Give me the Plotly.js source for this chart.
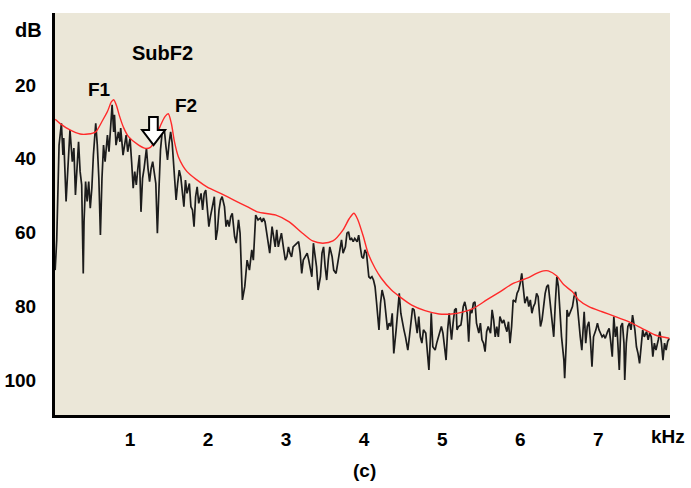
<!DOCTYPE html>
<html>
<head>
<meta charset="utf-8">
<script src="https://cdn.plot.ly/plotly-3.0.1.min.js"></script>
<style>html,body{margin:0;padding:0;background:#fff;}#chart{width:691px;height:488px;}</style>
</head>
<body>
<div id="chart"></div>
<script>
// Spectrum (black, FFT) — frequency in kHz, level in dB
const spectrumKHz = [0.04,0.06,0.09,0.12,0.14,0.15,0.18,0.21,0.23,0.26,0.28,0.30,0.32,0.34,0.36,0.38,0.40,0.41,0.43,0.45,0.47,0.49,0.51,0.53,0.56,0.58,0.60,0.62,0.64,0.66,0.68,0.71,0.73,0.75,0.77,0.79,0.80,0.82,0.85,0.87,0.88,0.91,0.93,0.95,0.97,1.00,1.02,1.04,1.06,1.08,1.10,1.12,1.14,1.16,1.18,1.21,1.23,1.25,1.27,1.29,1.33,1.35,1.37,1.39,1.41,1.44,1.46,1.48,1.50,1.52,1.54,1.56,1.59,1.61,1.63,1.65,1.67,1.69,1.71,1.73,1.76,1.78,1.80,1.82,1.84,1.86,1.88,1.91,1.93,1.95,1.97,1.99,2.01,2.03,2.06,2.08,2.10,2.12,2.14,2.16,2.18,2.21,2.23,2.25,2.27,2.29,2.31,2.34,2.36,2.39,2.41,2.44,2.47,2.50,2.53,2.56,2.58,2.61,2.64,2.67,2.69,2.71,2.73,2.76,2.79,2.82,2.84,2.86,2.88,2.90,2.92,2.94,2.97,2.99,3.01,3.03,3.05,3.07,3.09,3.14,3.16,3.18,3.20,3.22,3.24,3.27,3.29,3.31,3.33,3.35,3.37,3.39,3.41,3.44,3.46,3.48,3.50,3.52,3.54,3.56,3.59,3.61,3.64,3.67,3.69,3.71,3.73,3.76,3.78,3.80,3.82,3.84,3.86,3.88,3.91,3.93,3.95,3.97,3.99,4.01,4.03,4.06,4.08,4.10,4.12,4.14,4.16,4.18,4.19,4.21,4.23,4.26,4.28,4.30,4.32,4.34,4.36,4.38,4.41,4.43,4.45,4.47,4.49,4.51,4.53,4.56,4.58,4.60,4.62,4.64,4.66,4.68,4.70,4.72,4.74,4.76,4.79,4.81,4.83,4.85,4.86,4.88,4.91,4.93,4.95,4.97,4.99,5.01,5.03,5.05,5.07,5.09,5.10,5.12,5.14,5.16,5.18,5.19,5.21,5.24,5.25,5.27,5.29,5.32,5.34,5.36,5.38,5.40,5.42,5.44,5.47,5.49,5.51,5.53,5.55,5.57,5.59,5.62,5.64,5.66,5.68,5.70,5.72,5.74,5.77,5.79,5.81,5.83,5.85,5.87,5.89,5.91,5.94,5.96,5.98,6.00,6.02,6.04,6.06,6.09,6.11,6.13,6.15,6.17,6.19,6.21,6.23,6.26,6.28,6.30,6.32,6.34,6.36,6.38,6.41,6.43,6.45,6.47,6.49,6.51,6.53,6.56,6.57,6.59,6.60,6.62,6.64,6.67,6.69,6.71,6.73,6.75,6.77,6.79,6.82,6.84,6.86,6.88,6.90,6.92,6.94,6.97,6.99,7.01,7.03,7.05,7.07,7.09,7.12,7.14,7.16,7.18,7.20,7.22,7.24,7.27,7.29,7.31,7.33,7.34,7.36,7.38,7.40,7.42,7.44,7.47,7.49,7.51,7.53,7.55,7.57,7.59,7.62,7.64,7.66,7.68,7.70,7.72,7.74,7.77,7.79,7.81,7.83,7.85,7.87,7.89,7.91];
const spectrumDb = [70.2,62.0,36.3,30.4,39.0,34.4,51.6,40.8,32.2,40.8,37.1,49.8,40.8,35.4,43.5,47.1,71.1,57.1,46.2,51.6,46.2,53.4,48.0,39.0,30.4,36.3,45.3,60.7,45.3,36.3,40.8,33.6,38.1,30.0,25.4,32.7,28.1,36.3,32.7,35.4,31.7,39.0,36.3,33.6,38.1,34.5,40.8,48.0,43.5,47.1,42.6,39.0,54.4,45.3,42.6,37.2,42.6,46.2,42.6,40.8,46.7,60.2,48.5,37.6,33.1,32.2,36.7,40.3,35.8,32.7,35.8,42.2,51.2,46.7,43.1,44.9,49.4,53.0,45.8,49.4,46.7,53.0,53.9,58.4,50.3,47.6,52.1,49.4,53.9,49.4,48.5,53.9,58.4,55.7,52.1,50.3,62.0,59.3,53.9,51.2,50.3,53.0,58.4,56.6,58.4,55.7,54.8,61.1,62.9,56.6,60.2,78.3,74.7,67.5,70.2,64.7,67.5,55.3,56.6,56.1,57.1,56.1,57.1,62.0,65.6,58.4,62.0,63.9,59.3,63.9,62.0,60.2,64.7,67.5,66.6,63.9,65.6,66.6,63.9,62.9,62.5,65.6,71.1,67.5,66.6,65.6,67.5,70.2,72.0,62.9,65.6,69.3,75.6,72.0,65.6,63.9,69.3,72.9,67.5,63.9,66.6,70.2,71.1,66.6,63.9,62.0,65.6,63.9,60.2,59.8,62.0,61.6,62.5,61.6,62.5,60.7,63.9,66.6,67.0,64.7,65.6,72.0,72.4,72.0,72.9,74.7,79.2,83.7,86.4,79.2,75.6,78.3,81.9,86.4,84.6,85.5,81.9,92.8,86.4,81.0,76.5,81.9,84.6,86.4,88.3,91.9,88.3,83.7,80.6,81.0,83.7,87.3,82.8,88.3,90.0,86.4,87.3,91.9,97.3,88.3,81.9,91.0,91.9,90.0,88.3,86.4,85.5,87.3,91.9,94.6,86.4,81.9,84.6,89.1,84.6,81.0,80.6,86.4,85.5,85.1,83.7,80.1,78.8,81.9,89.6,81.0,81.9,79.2,78.8,84.6,87.3,84.6,89.1,90.0,92.3,86.9,85.5,87.3,81.0,83.7,88.3,85.5,88.3,82.8,84.6,83.7,85.5,86.9,84.2,90.0,85.5,78.3,78.8,76.5,75.6,73.8,71.1,74.7,79.2,77.4,80.1,78.3,81.9,80.1,79.2,76.5,77.4,85.5,83.7,80.1,76.5,74.7,74.2,78.3,83.7,88.3,79.2,72.0,74.7,81.9,88.3,94.6,99.5,90.0,81.0,82.8,81.9,80.1,77.4,76.1,79.2,84.6,88.3,91.9,81.5,90.0,85.5,84.2,89.1,96.4,88.3,86.4,84.6,86.4,87.3,88.3,87.8,88.7,86.9,86.0,89.6,93.7,82.8,88.3,85.5,97.3,85.5,84.6,90.0,100.0,90.0,85.5,84.6,86.4,82.4,86.4,91.0,92.8,95.5,90.0,86.4,88.3,86.9,89.1,87.3,88.3,93.7,90.0,91.9,89.1,86.9,90.0,94.6,90.0,91.9,89.6,88.7];

// Envelope (red, smooth)
const envelopeKHz = [0.04,0.10,0.23,0.36,0.46,0.56,0.64,0.71,0.76,0.79,0.83,0.86,0.92,0.98,1.11,1.20,1.26,1.32,1.39,1.45,1.49,1.53,1.57,1.62,1.73,1.86,1.99,2.16,2.33,2.50,2.63,2.87,3.04,3.21,3.34,3.47,3.60,3.73,3.81,3.87,3.92,3.99,4.05,4.14,4.22,4.35,4.48,4.61,4.78,4.96,5.12,5.26,5.40,5.57,5.74,5.91,6.09,6.21,6.30,6.36,6.47,6.56,6.67,6.75,6.88,7.05,7.22,7.39,7.56,7.73,7.91];
const envelopeDb = [29.3,30.4,32.2,33.3,33.3,32.7,29.9,27.2,24.6,24.0,25.8,28.1,31.7,34.0,36.3,37.2,36.9,35.0,31.0,28.5,27.8,30.5,35.5,39.5,43.5,45.8,47.7,49.4,51.2,53.0,54.4,55.3,57.1,60.2,62.3,62.9,62.3,59.3,56.2,54.8,56.6,61.1,65.6,69.7,72.4,75.6,77.8,79.7,81.2,82.1,82.1,81.6,80.6,78.3,76.1,73.8,72.4,71.1,70.4,70.4,71.8,74.2,76.1,78.3,80.1,81.5,82.8,84.2,86.0,87.8,88.7];

const xTicks = [1,2,3,4,5,6,7];
const yTicks = [20,40,60,80,100];

const FAMILY = '"Liberation Sans", Arial, sans-serif';
const FONT = {family: FAMILY, size: 19, color: '#000', weight: 'bold'};
const FONT_BIG = {family: FAMILY, size: 20, color: '#000', weight: 'bold'};

const traces = [
  {x: spectrumKHz, y: spectrumDb, type: 'scatter', mode: 'lines',
   line: {color: '#1c1c1c', width: 1.7}, hoverinfo: 'skip'},
  {x: envelopeKHz, y: envelopeDb, type: 'scatter', mode: 'lines',
   line: {color: '#ff2a2a', width: 1.4, shape: 'spline', smoothing: 0.7}, hoverinfo: 'skip'}
];

const layout = {
  width: 691, height: 488,
  margin: {l: 55, r: 21, t: 13, b: 73, pad: 0},
  paper_bgcolor: '#ffffff',
  plot_bgcolor: '#EBE7D8',
  showlegend: false,
  font: FONT,
  xaxis: {range: [0.038, 7.92], tickvals: xTicks, ticktext: xTicks.map(String),
          showline: true, linecolor: '#000', linewidth: 3, mirror: false,
          showgrid: false, zeroline: false, ticks: '', tickfont: FONT, ticklabelstandoff: 5},
  yaxis: {range: [109.5, 0.47], tickvals: yTicks, ticktext: yTicks.map(String),
          showline: true, linecolor: '#000', linewidth: 3, mirror: false,
          showgrid: false, zeroline: false, ticks: '', tickfont: FONT, ticklabelstandoff: 12},
  shapes: [
    {type: 'path', xref: 'x', yref: 'y',
     path: 'M 1.244 28.7 L 1.355 28.7 L 1.355 32.2 L 1.449 32.2 L 1.301 36.3 L 1.154 32.2 L 1.244 32.2 Z',
     fillcolor: '#ffffff', line: {color: '#000', width: 2}}
  ],
  annotations: [
    {text: 'dB', xref: 'paper', yref: 'y', x: 0, y: 5.1, xanchor: 'right', yanchor: 'middle', xshift: -11, showarrow: false, font: FONT_BIG},
    {text: 'SubF2', xref: 'x', yref: 'y', x: 1.417, y: 11.2, xanchor: 'center', yanchor: 'middle', showarrow: false, font: FONT_BIG},
    {text: 'F1', xref: 'x', yref: 'y', x: 0.613, y: 21.1, xanchor: 'center', yanchor: 'middle', showarrow: false, font: FONT},
    {text: 'F2', xref: 'x', yref: 'y', x: 1.72, y: 25.6, xanchor: 'center', yanchor: 'middle', showarrow: false, font: FONT},
    {text: 'kHz', xref: 'x', yref: 'paper', x: 7.9, y: 0, xanchor: 'center', yanchor: 'middle', yshift: -21, showarrow: false, font: FONT},
    {text: '(c)', xref: 'x', yref: 'paper', x: 4.0, y: 0, xanchor: 'center', yanchor: 'middle', yshift: -55, showarrow: false, font: FONT}
  ]
};

Plotly.newPlot('chart', traces, layout, {staticPlot: true, displayModeBar: false});
</script>
</body>
</html>
